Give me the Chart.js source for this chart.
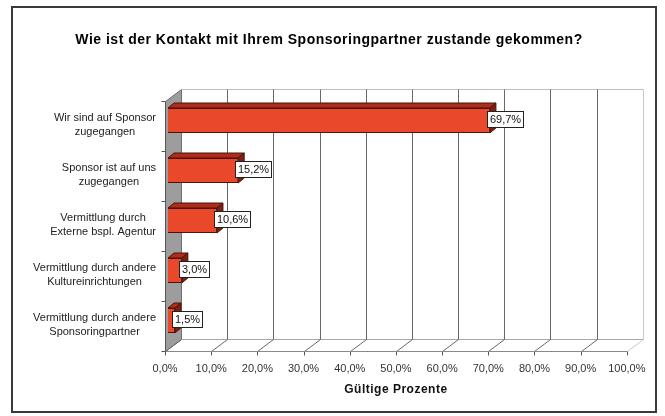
<!DOCTYPE html>
<html><head><meta charset="utf-8">
<script src="https://cdn.jsdelivr.net/npm/chart.js@4"></script>
<style>html,body{margin:0;padding:0;background:#fff}</style>
</head><body>
<canvas id="c" width="665" height="416"></canvas>
<script>
const titleText = "Wie ist der Kontakt mit Ihrem Sponsoringpartner zustande gekommen?";
const axisTitle = "Gültige Prozente";
const categories = [
  ["Wir sind auf Sponsor", "zugegangen"],
  ["Sponsor ist auf uns", "zugegangen"],
  ["Vermittlung durch", "Externe bspl. Agentur"],
  ["Vermittlung durch andere", "Kultureinrichtungen"],
  ["Vermittlung durch andere", "Sponsoringpartner"]
];
const values = [69.7, 15.2, 10.6, 3.0, 1.5];
const xTickLabels = ["0,0%", "10,0%", "20,0%", "30,0%", "40,0%", "50,0%", "60,0%", "70,0%", "80,0%", "90,0%", "100,0%"];

const FONT = '"Liberation Sans", Arial, sans-serif';
const WALL_DX = 16, WALL_DY = 12.5;
const FRONT_DX = -3, FRONT_DY = 5;
const BAR_DX = 6, BAR_DY = 5;
const fmt = v => v.toFixed(1).replace('.', ',') + '%';

function seg(ctx, x1, y1, x2, y2, color) {
  ctx.strokeStyle = color;
  ctx.beginPath(); ctx.moveTo(x1, y1); ctx.lineTo(x2, y2); ctx.stroke();
}

const scene = {
  id: 'scene',
  beforeDraw(chart) {
    const ctx = chart.ctx;
    ctx.save(); ctx.fillStyle = '#fff'; ctx.fillRect(0, 0, chart.width, chart.height); ctx.restore();
  },
  beforeDatasetsDraw(chart) {
    const { ctx, chartArea: a, scales: { x, y } } = chart;
    const fx = v => Math.round(x.getPixelForValue(v) + FRONT_DX) + 0.5;
    const fTop = Math.round(a.top + FRONT_DY) + 0.5, fBot = Math.round(a.bottom + FRONT_DY) + 0.5;
    const bTop = Math.round(fTop - WALL_DY) + 0.5, bBot = Math.round(fBot - WALL_DY) + 0.5;
    ctx.save();
    ctx.lineWidth = 1;
    ctx.fillStyle = '#9d9d9d';
    ctx.beginPath();
    ctx.moveTo(fx(0), fTop); ctx.lineTo(fx(0) + WALL_DX, bTop);
    ctx.lineTo(fx(0) + WALL_DX, bBot); ctx.lineTo(fx(0), fBot); ctx.closePath();
    ctx.fill();
    ctx.strokeStyle = '#707070'; ctx.stroke();
    seg(ctx, fx(0) + WALL_DX, bTop, fx(100) + WALL_DX, bTop, '#bdbdbd');
    seg(ctx, fx(0) + WALL_DX, bBot, fx(100) + WALL_DX, bBot, '#a8a8a8');
    x.ticks.forEach(t => {
      const X = fx(t.value);
      const c = t.value === 100 ? '#c8c8c8' : '#6c6666';
      if (t.value > 0) seg(ctx, X + WALL_DX, bTop, X + WALL_DX, bBot, c);
      seg(ctx, X + WALL_DX, bBot, X, fBot, c);
      seg(ctx, X, fBot, X, fBot + 4, '#555');
    });
    seg(ctx, fx(0), fBot, fx(100), fBot, '#8a8a8a');
    seg(ctx, fx(0), fTop, fx(0), fBot, '#555');
    const n = categories.length;
    const band = (a.bottom - a.top) / n;
    for (let i = 0; i <= n; i++) {
      const yy = Math.round(a.top + FRONT_DY + i * band) + 0.5;
      seg(ctx, fx(0) - 4, yy, fx(0), yy, '#555');
    }
    const meta = chart.getDatasetMeta(0);
    meta.data.forEach(el => {
      const p = el.getProps(['x', 'y', 'base', 'height'], true);
      const top = p.y - p.height / 2, bot = p.y + p.height / 2;
      ctx.strokeStyle = '#4a140c';
      ctx.fillStyle = '#ad2c1a';
      ctx.beginPath();
      ctx.moveTo(p.base, top); ctx.lineTo(p.x, top);
      ctx.lineTo(p.x + BAR_DX, top - BAR_DY); ctx.lineTo(p.base + BAR_DX, top - BAR_DY);
      ctx.closePath(); ctx.fill(); ctx.stroke();
      ctx.fillStyle = '#7f1e12';
      ctx.beginPath();
      ctx.moveTo(p.x, top); ctx.lineTo(p.x + BAR_DX, top - BAR_DY);
      ctx.lineTo(p.x + BAR_DX, bot - BAR_DY); ctx.lineTo(p.x, bot);
      ctx.closePath(); ctx.fill(); ctx.stroke();
    });
    ctx.restore();
  },
  afterDatasetsDraw(chart) {
    const ctx = chart.ctx;
    const meta = chart.getDatasetMeta(0);
    ctx.save();
    ctx.font = '11px ' + FONT;
    ctx.textAlign = 'center'; ctx.textBaseline = 'middle';
    meta.data.forEach((el, i) => {
      const txt = fmt(values[i]);
      const w = Math.round(ctx.measureText(txt).width + 5);
      const h = 16;
      const left = Math.round(el.x - 3) + 0.5;
      const top = Math.round(el.y - 2 - h / 2) + 0.5;
      ctx.fillStyle = '#fff'; ctx.fillRect(left, top, w, h);
      ctx.strokeStyle = '#222'; ctx.lineWidth = 1; ctx.strokeRect(left, top, w, h);
      ctx.fillStyle = '#111';
      ctx.fillText(txt, left + w / 2, top + h / 2 + 0.5);
    });
    ctx.restore();
  },
  afterDraw(chart) {
    const { ctx, scales: { x, y } } = chart;
    ctx.save();
    // y category labels: block right-aligned, lines centred
    ctx.font = '11px ' + FONT;
    ctx.fillStyle = '#222';
    ctx.textAlign = 'center'; ctx.textBaseline = 'middle';
    const right = x.getPixelForValue(0) + FRONT_DX - 9;
    categories.forEach((lines, i) => {
      const cy = y.getPixelForValue(i) + FRONT_DY - 0.5;
      const bw = Math.max(...lines.map(l => ctx.measureText(l).width));
      const cx = right - bw / 2;
      const lh = 14;
      lines.forEach((l, j) => ctx.fillText(l, cx, cy + (j - (lines.length - 1) / 2) * lh));
    });
    // chart title
    ctx.fillStyle = '#000';
    ctx.font = 'bold 14px ' + FONT;
    ctx.letterSpacing = '0.5px';
    ctx.fillText(titleText, 329, 40);
    // axis title
    ctx.fillStyle = '#111';
    ctx.font = 'bold 12px ' + FONT;
    ctx.fillText(axisTitle, (x.getPixelForValue(0) + x.getPixelForValue(100)) / 2 + FRONT_DX, 390);
    ctx.letterSpacing = '0px';
    // frame
    ctx.strokeStyle = '#3a3a3a'; ctx.lineWidth = 2;
    ctx.strokeRect(12, 7, 644, 405);
    ctx.restore();
  }
};

new Chart(document.getElementById('c'), {
  type: 'bar',
  data: {
    labels: categories,
    datasets: [{
      data: values,
      backgroundColor: '#e9482b',
      borderColor: '#4a140c',
      borderWidth: 1,
      barPercentage: 0.5,
      categoryPercentage: 1
    }]
  },
  options: {
    indexAxis: 'y',
    responsive: false,
    animation: false,
    layout: { padding: { left: 168, right: 32, top: 95.5, bottom: 0 } },
    plugins: {
      legend: { display: false },
      tooltip: { enabled: false },
      title: { display: false }
    },
    scales: {
      x: {
        min: 0, max: 100,
        grid: { display: false, drawTicks: false },
        border: { display: false },
        afterFit: s => { s.height = 70.5; },
        ticks: {
          stepSize: 10, padding: 16.5, labelOffset: -3, color: '#333',
          maxRotation: 0, autoSkip: false,
          font: { family: FONT, size: 11 },
          callback: (v, i) => xTickLabels[i]
        }
      },
      y: { display: false }
    }
  },
  plugins: [scene]
});
</script>
</body></html>
